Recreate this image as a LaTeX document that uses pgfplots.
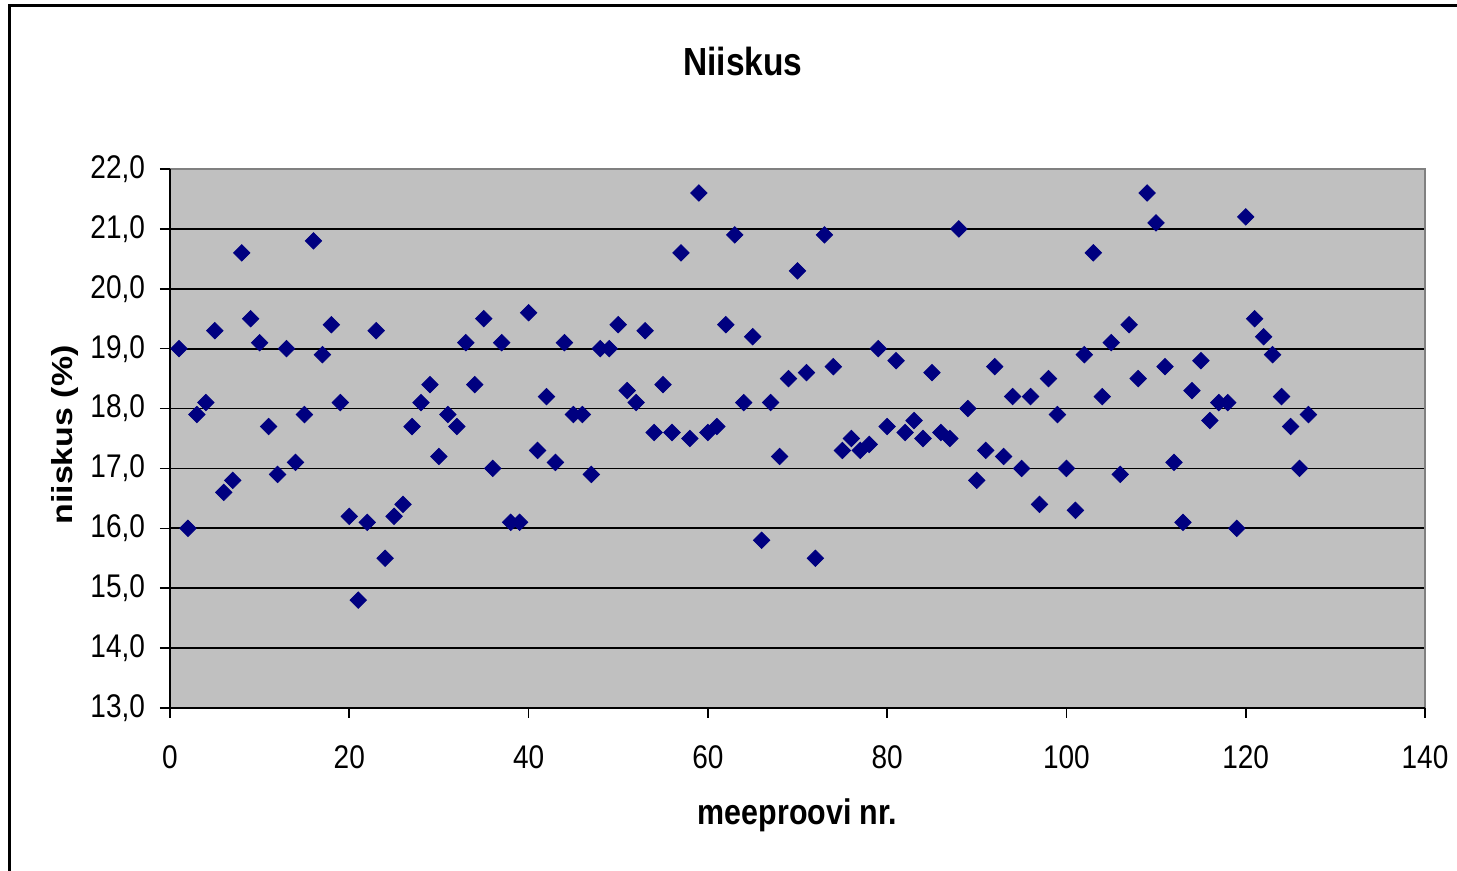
\documentclass[border=0pt]{standalone}
\usepackage{fontspec}
\setmainfont{Liberation Sans}
\usepackage{pgfplots}
\pgfplotsset{compat=1.18}
\usepackage{pgfplotstable}
\definecolor{plotbg}{HTML}{C0C0C0}
\definecolor{navy}{HTML}{000080}
\definecolor{framegray}{HTML}{808080}

\pgfplotstableread{
x y
1 19.0
2 16.0
3 17.9
4 18.1
5 19.3
6 16.6
7 16.8
8 20.6
9 19.5
10 19.1
11 17.7
12 16.9
13 19.0
14 17.1
15 17.9
16 20.8
17 18.9
18 19.4
19 18.1
20 16.2
21 14.8
22 16.1
23 19.3
24 15.5
25 16.2
26 16.4
27 17.7
28 18.1
29 18.4
30 17.2
31 17.9
32 17.7
33 19.1
34 18.4
35 19.5
36 17.0
37 19.1
38 16.1
39 16.1
40 19.6
41 17.3
42 18.2
43 17.1
44 19.1
45 17.9
46 17.9
47 16.9
48 19.0
49 19.0
50 19.4
51 18.3
52 18.1
53 19.3
54 17.6
55 18.4
56 17.6
57 20.6
58 17.5
59 21.6
60 17.6
61 17.7
62 19.4
63 20.9
64 18.1
65 19.2
66 15.8
67 18.1
68 17.2
69 18.5
70 20.3
71 18.6
72 15.5
73 20.9
74 18.7
75 17.3
76 17.5
77 17.3
78 17.4
79 19.0
80 17.7
81 18.8
82 17.6
83 17.8
84 17.5
85 18.6
86 17.6
87 17.5
88 21.0
89 18.0
90 16.8
91 17.3
92 18.7
93 17.2
94 18.2
95 17.0
96 18.2
97 16.4
98 18.5
99 17.9
100 17.0
101 16.3
102 18.9
103 20.6
104 18.2
105 19.1
106 16.9
107 19.4
108 18.5
109 21.6
110 21.1
111 18.7
112 17.1
113 16.1
114 18.3
115 18.8
116 17.8
117 18.1
118 18.1
119 16.0
120 21.2
121 19.5
122 19.2
123 18.9
124 18.2
125 17.7
126 17.0
127 17.9
}\datatable

\begin{document}
\begin{tikzpicture}
\path[use as bounding box] (-85pt,-81.5pt) rectangle (643.5pt,354pt);
\draw[line width=1.5pt] (-80pt,-90pt) -- (-80pt,351pt) -- (650pt,351pt);
\begin{axis}[
  at={(0,0)}, anchor=south west,
  scale only axis, width=627.5pt, height=269.5pt,
  xmin=0, xmax=140, ymin=13, ymax=22,
  xtick={0,20,...,140}, ytick={13,14,...,22},
  axis background/.style={fill=plotbg},
  ymajorgrids, major grid style={black, line width=0.9pt},
  axis line style={draw=none},
  tick align=outside, major tick length=5pt,
  tick style={black, line width=0.8pt},
  xtick pos=left, ytick pos=left,
  /pgf/number format/assume math mode=true,
  tick label style={font=\fontsize{14}{16}\selectfont},
  xticklabel style={yshift=-10.5pt},
  yticklabel style={xshift=-4pt, /pgf/number format/.cd, fixed, fixed zerofill, precision=1, use comma},
  xticklabel={\scalebox{1}[1.17]{\pgfmathprintnumber{\tick}}},
  yticklabel={\scalebox{1}[1.17]{\pgfmathprintnumber{\tick}}},
  clip=false,
]
\addplot[only marks, color=navy, mark=square*, mark size=2.9pt,
  mark options={rotate=45, fill=navy, draw=navy}] table {\datatable};
\draw[framegray, line width=1pt] (axis cs:0,22) -- (axis cs:140,22) -- (axis cs:140,13);
\draw[black, line width=1pt] (axis cs:0,22) -- (axis cs:0,13) -- (axis cs:140,13);
\end{axis}
\node[font=\bfseries\fontsize{16.75}{20}\selectfont] at (286.5pt,323pt) {\scalebox{1}[1.17]{Niiskus}};
\node[font=\bfseries\fontsize{15.2}{18}\selectfont, anchor=base] at (313.75pt,-58.5pt) {\scalebox{1}[1.17]{meeproovi nr.}};
\node[font=\bfseries\fontsize{14.5}{18}\selectfont, anchor=base, rotate=90] at (-48.5pt,136.5pt) {\scalebox{1.17}[1]{niiskus (\%)}};
\end{tikzpicture}
\end{document}
